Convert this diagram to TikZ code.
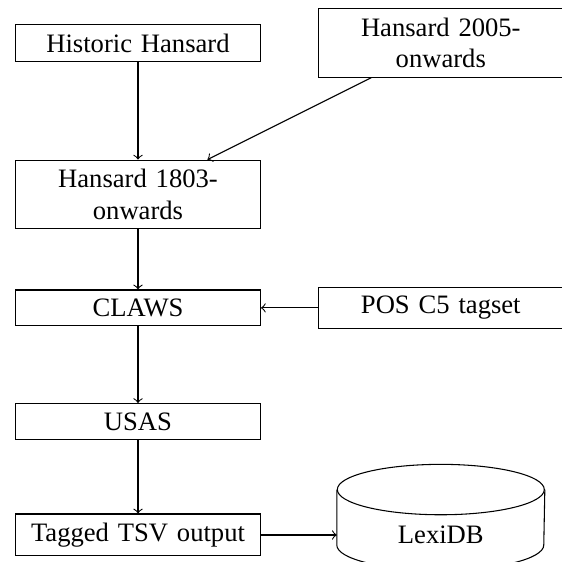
\documentclass[tikz,border=0pt]{standalone}
\usepackage{fontspec}
\setmainfont{Liberation Serif}
\begin{document}
\begin{tikzpicture}[
  procbox/.style={draw, rectangle, text width=3cm, align=center},
  dbnode/.style={rectangle, minimum width=2.734cm, minimum height=1.2cm, inner sep=0pt},
  flow/.style={->}
]
\useasboundingbox (-1.823,0.567) rectangle (5.601,-6.857);
\clip (-1.823,0.567) rectangle (5.601,-6.857);

\node[procbox] (hist)   at (0,0)    {Historic Hansard};
\node[procbox] (h2005)  at (4,0)    {Hansard 2005-\\onwards};
\node[procbox] (h1803)  at (0,-2)   {Hansard 1803-\\onwards};
\node[procbox] (claws)  at (0,-3.5) {CLAWS};
\node[procbox] (pos)    at (4,-3.5) {POS C5 tagset};
\node[procbox] (usas)   at (0,-5)   {USAS};
\node[procbox] (tagged) at (0,-6.5) {Tagged TSV output};
\node[dbnode]  (lexidb) at (4,-6.5) {LexiDB};

% cylinder outline for LexiDB
\draw ([yshift=0.6cm]lexidb.center) ellipse [x radius=1.367cm, y radius=0.333cm];
\draw ([yshift=0.6cm]lexidb.west) -- ([yshift=-0.133cm]lexidb.west)
      arc[start angle=180, end angle=360, x radius=1.367cm, y radius=0.333cm]
      -- ([yshift=0.6cm]lexidb.east);

\draw[flow] (hist) -- (h1803);
\draw[flow] (h2005) -- (h1803);
\draw[flow] (h1803) -- (claws);
\draw[flow] (pos) -- (claws);
\draw[flow] (claws) -- (usas);
\draw[flow] (usas) -- (tagged);
\draw[flow] (tagged) -- (lexidb);
\end{tikzpicture}
\end{document}
